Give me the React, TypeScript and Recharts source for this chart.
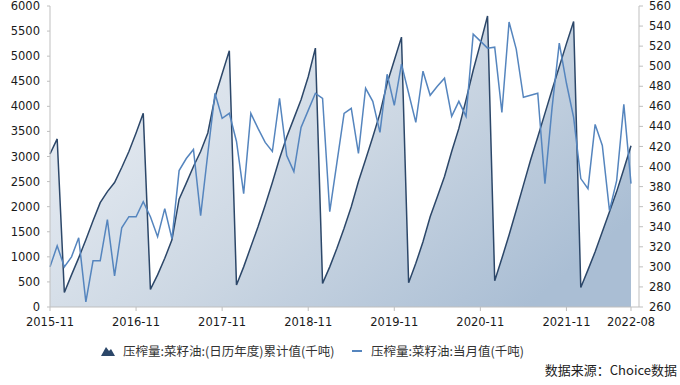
import { ComposedChart, Area, Line, XAxis, YAxis } from "recharts";

// month labels, 2015-11 .. 2022-08
const months = [
  "2015-11", "2015-12",
  "2016-01", "2016-02", "2016-03", "2016-04", "2016-05", "2016-06", "2016-07", "2016-08", "2016-09", "2016-10", "2016-11", "2016-12",
  "2017-01", "2017-02", "2017-03", "2017-04", "2017-05", "2017-06", "2017-07", "2017-08", "2017-09", "2017-10", "2017-11", "2017-12",
  "2018-01", "2018-02", "2018-03", "2018-04", "2018-05", "2018-06", "2018-07", "2018-08", "2018-09", "2018-10", "2018-11", "2018-12",
  "2019-01", "2019-02", "2019-03", "2019-04", "2019-05", "2019-06", "2019-07", "2019-08", "2019-09", "2019-10", "2019-11", "2019-12",
  "2020-01", "2020-02", "2020-03", "2020-04", "2020-05", "2020-06", "2020-07", "2020-08", "2020-09", "2020-10", "2020-11", "2020-12",
  "2021-01", "2021-02", "2021-03", "2021-04", "2021-05", "2021-06", "2021-07", "2021-08", "2021-09", "2021-10", "2021-11", "2021-12",
  "2022-01", "2022-02", "2022-03", "2022-04", "2022-05", "2022-06", "2022-07", "2022-08",
];

// 压榨量:菜籽油:(日历年度)累计值 (千吨), left axis
const cumulative = [
  3050, 3350,
  290, 640, 980, 1340, 1720, 2080, 2300, 2480, 2780, 3100, 3470, 3860,
  350, 640, 970, 1340, 2150, 2470, 2800, 3100, 3470, 4180, 4650, 5110,
  440, 800, 1200, 1600, 2030, 2480, 2960, 3390, 3760, 4130, 4590, 5160,
  470, 800, 1170, 1570, 2000, 2500, 2940, 3390, 3860, 4460, 4920, 5380,
  485, 870, 1300, 1800, 2200, 2600, 3100, 3560, 4130, 4720, 5250, 5800,
  525, 970, 1435, 1930, 2430, 2930, 3390, 3860, 4330, 4790, 5250, 5690,
  390, 740, 1100, 1500, 1900, 2300, 2750, 3215,
];

// 压榨量:菜籽油:当月值 (千吨), right axis
const monthly = [
  300, 321,
  300, 310, 329, 265, 306, 306, 347, 291, 339, 350, 350, 365,
  350, 330, 358, 328, 396, 408, 417, 351, 413, 473, 448, 453,
  425, 373, 453, 438, 424, 415, 468, 411, 395, 439, 456, 473,
  468, 355, 404, 453, 458, 413, 478, 465, 434, 492, 461, 502,
  473, 444, 495, 471, 480, 488, 450, 465, 450, 532, 525, 518,
  519, 454, 544, 517, 469, 471, 473, 383, 459, 523, 483, 449,
  388, 378, 442, 421, 356, 386, 462, 383,
];

const xTicks = ["2015-11", "2016-11", "2017-11", "2018-11", "2019-11", "2020-11", "2021-11", "2022-08"];
const leftTicks = [0, 500, 1000, 1500, 2000, 2500, 3000, 3500, 4000, 4500, 5000, 5500, 6000];
const rightTicks = [260, 280, 300, 320, 340, 360, 380, 400, 420, 440, 460, 480, 500, 520, 540, 560];

const CUM_COLOR = "#2C4769";
const MONTH_COLOR = "#5585BE";
const AXIS = "#BFBFBF";
const tickFont = { fontSize: 11.5, fill: "#1a1a1a", fontFamily: "DejaVu Sans" };

const data = months.map((m, i) => ({ name: m, cum: cumulative[i], month: monthly[i] }));

export default function App() {
  return (
    <div style={{ position: "absolute", left: 0, top: 0, width: 680, height: 385, background: "#fff", fontFamily: "'Noto Sans CJK SC', sans-serif" }}>
      <ComposedChart width={680} height={385} data={data} margin={{ top: 6, right: 0, bottom: 48, left: 0 }}>
        <defs>
          <linearGradient id="cumFill" x1="0" y1="0.1" x2="1" y2="0.7">
            <stop offset="0%" stopColor="#EDF1F6" />
            <stop offset="55%" stopColor="#CCD7E3" />
            <stop offset="100%" stopColor="#AABED4" />
          </linearGradient>
        </defs>
        <XAxis
          dataKey="name"
          ticks={xTicks}
          interval={0}
          height={30}
          padding={{ left: 0, right: 8 }}
          tick={tickFont}
          tickSize={4}
          tickMargin={7}
          axisLine={{ stroke: AXIS }}
          tickLine={{ stroke: AXIS }}
        />
        <YAxis
          yAxisId="left"
          width={50}
          domain={[0, 6000]}
          ticks={leftTicks}
          interval={0}
          tick={tickFont}
          tickSize={3}
          tickMargin={7}
          axisLine={{ stroke: AXIS }}
          tickLine={{ stroke: AXIS }}
        />
        <YAxis
          yAxisId="right"
          orientation="right"
          width={41}
          domain={[260, 560]}
          ticks={rightTicks}
          interval={0}
          tick={tickFont}
          tickSize={4}
          tickMargin={6}
          axisLine={{ stroke: AXIS }}
          tickLine={{ stroke: AXIS }}
        />
        <Area
          yAxisId="left"
          type="linear"
          dataKey="cum"
          stroke={CUM_COLOR}
          strokeWidth={1.5}
          fill="url(#cumFill)"
          fillOpacity={1}
          dot={false}
          activeDot={false}
          isAnimationActive={false}
        />
        <Line
          yAxisId="right"
          type="linear"
          dataKey="month"
          stroke={MONTH_COLOR}
          strokeWidth={1.5}
          dot={false}
          activeDot={false}
          isAnimationActive={false}
        />
      </ComposedChart>

      {/* legend */}
      <svg style={{ position: "absolute", left: 101, top: 345 }} width={14} height={11}>
        <polygon points="0,11 5,2 8,6 10,4 14,11" fill={CUM_COLOR} />
      </svg>
      <div style={{ position: "absolute", left: 123, top: 342, fontSize: 12.5, lineHeight: "17px", color: "#333", whiteSpace: "nowrap" }}>
        压榨量:菜籽油:(日历年度)累计值(千吨)
      </div>
      <div style={{ position: "absolute", left: 352, top: 350, width: 10, height: 2, background: MONTH_COLOR }} />
      <div style={{ position: "absolute", left: 371, top: 342, fontSize: 12.5, lineHeight: "17px", color: "#333", whiteSpace: "nowrap" }}>
        压榨量:菜籽油:当月值(千吨)
      </div>

      <div style={{ position: "absolute", right: 3, top: 361, fontSize: 13, lineHeight: "17px", color: "#222", whiteSpace: "nowrap" }}>
        数据来源：Choice数据
      </div>
    </div>
  );
}
